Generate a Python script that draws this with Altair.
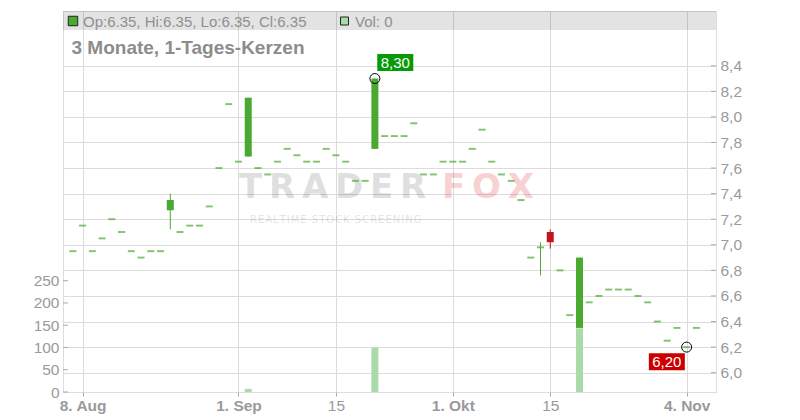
import altair as alt
import pandas as pd

# ---------------- data ----------------
idx = list(range(65))  # trading days 7 Aug 2025 .. 5 Nov 2025
opens = [6.95, 7.15, 6.95, 7.05, 7.20, 7.10, 6.95, 6.90, 6.95, 6.95,
         7.27, 7.10, 7.15, 7.15, 7.30, 7.60, 8.10, 7.65, 7.69, 7.60,
         7.55, 7.65, 7.75, 7.70, 7.65, 7.65, 7.75, 7.70, 7.65, 7.50,
         7.50, 7.75, 7.85, 7.85, 7.85, 7.95, 7.55, 7.55, 7.65, 7.65,
         7.65, 7.75, 7.90, 7.65, 7.55, 7.50, 7.35, 6.90, 6.98, 7.10,
         6.80, 6.45, 6.35, 6.55, 6.60, 6.65, 6.65, 6.65, 6.60, 6.55,
         6.40, 6.25, 6.35, 6.20, 6.35]
highs = [6.95, 7.15, 6.95, 7.05, 7.20, 7.10, 6.95, 6.90, 6.95, 6.95,
         7.40, 7.10, 7.15, 7.15, 7.30, 7.60, 8.10, 7.65, 8.15, 7.60,
         7.55, 7.65, 7.75, 7.70, 7.65, 7.65, 7.75, 7.70, 7.65, 7.50,
         7.50, 8.30, 7.85, 7.85, 7.85, 7.95, 7.55, 7.55, 7.65, 7.65,
         7.65, 7.75, 7.90, 7.65, 7.55, 7.50, 7.35, 6.90, 7.02, 7.12,
         6.80, 6.45, 6.90, 6.55, 6.60, 6.65, 6.65, 6.65, 6.60, 6.55,
         6.40, 6.25, 6.35, 6.20, 6.35]
lows = [6.95, 7.15, 6.95, 7.05, 7.20, 7.10, 6.95, 6.90, 6.95, 6.95,
        7.12, 7.10, 7.15, 7.15, 7.30, 7.60, 8.10, 7.65, 7.69, 7.60,
        7.55, 7.65, 7.75, 7.70, 7.65, 7.65, 7.75, 7.70, 7.65, 7.50,
        7.50, 7.75, 7.85, 7.85, 7.85, 7.95, 7.55, 7.55, 7.65, 7.65,
        7.65, 7.75, 7.90, 7.65, 7.55, 7.50, 7.35, 6.90, 6.76, 6.97,
        6.80, 6.45, 6.35, 6.55, 6.60, 6.65, 6.65, 6.65, 6.60, 6.55,
        6.40, 6.25, 6.35, 6.20, 6.35]
closes = [6.95, 7.15, 6.95, 7.05, 7.20, 7.10, 6.95, 6.90, 6.95, 6.95,
          7.35, 7.10, 7.15, 7.15, 7.30, 7.60, 8.10, 7.65, 8.15, 7.60,
          7.55, 7.65, 7.75, 7.70, 7.65, 7.65, 7.75, 7.70, 7.65, 7.50,
          7.50, 8.30, 7.85, 7.85, 7.85, 7.95, 7.55, 7.55, 7.65, 7.65,
          7.65, 7.75, 7.90, 7.65, 7.55, 7.50, 7.35, 6.90, 6.98, 7.02,
          6.80, 6.45, 6.90, 6.55, 6.60, 6.65, 6.65, 6.65, 6.60, 6.55,
          6.40, 6.25, 6.35, 6.20, 6.35]
volumes = [0, 0, 0, 0, 0, 0, 0, 0, 0, 0,
           0, 0, 0, 0, 0, 0, 0, 0, 7, 0,
           0, 0, 0, 0, 0, 0, 0, 0, 0, 0,
           0, 100, 0, 0, 0, 0, 0, 0, 0, 0,
           0, 0, 0, 0, 0, 0, 0, 0, 0, 0,
           0, 0, 143, 0, 0, 0, 0, 0, 0, 0,
           0, 0, 0, 0, 0]

tick_idx = [1, 17, 27, 39, 49, 63]
tick_labels = ["8. Aug", "1. Sep", "15", "1. Okt", "15", "4. Nov"]
price_ticks = [6.0, 6.2, 6.4, 6.6, 6.8, 7.0, 7.2, 7.4, 7.6, 7.8, 8.0, 8.2, 8.4]
vol_ticks = [0, 50, 100, 150, 200, 250]

# ---------------- styling ----------------
GREEN = "#49a931"
RED = "#c2161c"
VOL_GREEN = "#a8dba8"
LABEL_GREEN = "#079a07"
LABEL_RED = "#cc0000"
AXIS_TXT = "#9a9a9a"
FONT = "Liberation Sans"
LFS = 15.5
W, H = 653, 381

df = pd.DataFrame({"i": idx, "o": opens, "h": highs, "l": lows, "c": closes, "v": volumes})
df["dir"] = ["up" if c >= o else "down" for o, c in zip(opens, closes)]

x_label_expr = "".join(f"datum.value == {v} ? '{l}' : " for v, l in zip(tick_idx, tick_labels)) + "''"
normal_test = " || ".join(f"datum.value == {v}" for v, l in zip(tick_idx, tick_labels) if l.isdigit())

common_axis = dict(labelFont=FONT, labelFontSize=LFS, labelColor=AXIS_TXT, title=None, domain=False)

x_scale = alt.Scale(domain=[-0.5, 65.5], nice=False, zero=False)
x_axis = alt.Axis(values=tick_idx, labelExpr=x_label_expr, grid=True, gridColor="#dcdcdc",
                  ticks=True, tickSize=4, tickColor="#aaaaaa", labelPadding=2,
                  labelFlush=False, labelOverlap=False,
                  labelFontWeight={"condition": {"test": normal_test, "value": "normal"}, "value": "bold"},
                  **common_axis)


def X(field="i"):
    return alt.X(f"{field}:Q", scale=x_scale, axis=x_axis)


price_scale = alt.Scale(domain=[5.849, 8.828], nice=False, zero=False)
price_axis = alt.Axis(orient="right", values=price_ticks,
                      labelExpr="replace(format(datum.value, '.1f'), '.', ',')",
                      grid=True, gridColor="#dcdcdc", ticks=False, labelPadding=4,
                      labelOverlap=False, **common_axis)


def YP(field):
    return alt.Y(f"{field}:Q", scale=price_scale, axis=price_axis)


vol_scale = alt.Scale(domain=[0, 856], nice=False, zero=True)
vol_axis = alt.Axis(orient="left", values=vol_ticks, grid=False, ticks=False,
                    labelPadding=4, labelOverlap=False, **common_axis)


def YV(field):
    return alt.Y(f"{field}:Q", scale=vol_scale, axis=vol_axis)


color = alt.Color("dir:N", scale=alt.Scale(domain=["up", "down"], range=[GREEN, RED]), legend=None)
base = alt.Chart(df)

# ---------------- volume group ----------------
vol_bars = base.transform_filter("datum.v > 0").mark_bar(width=7, color=VOL_GREEN).encode(
    x=X(), y=YV("v"),
)
vol_inner_ticks = alt.Chart(pd.DataFrame({"t": vol_ticks})).mark_rule(color="#aaaaaa").encode(
    y=YV("t"), x=alt.value(0), x2=alt.value(5)
)
vol_group = alt.layer(vol_bars, vol_inner_ticks)

# ---------------- price group ----------------
one = pd.DataFrame({"k": [0]})
header_band = alt.Chart(one).mark_rect(color="black", opacity=0.11).encode(
    x=alt.value(0), x2=alt.value(W), y=alt.value(0), y2=alt.value(19)
)
wm_trader = alt.Chart(one).mark_text(
    text="\u2009".join("TRADER"), font="DejaVu Sans", fontWeight="bold", fontSize=34,
    align="left", baseline="alphabetic", color="black", opacity=0.12,
).encode(x=alt.value(176), y=alt.value(187))
wm_fox = alt.Chart(one).mark_text(
    text="\u2009".join("FOX"), font="DejaVu Sans", fontWeight="bold", fontSize=34,
    align="left", baseline="alphabetic", color="#e02028", opacity=0.2,
).encode(x=alt.value(379), y=alt.value(187))
wm_sub = alt.Chart(one).mark_text(
    text="\u200a".join("REALTIME STOCK SCREENING"), font="DejaVu Sans", fontSize=10,
    align="left", baseline="alphabetic", color="black", opacity=0.1,
).encode(x=alt.value(187), y=alt.value(212))

wicks = base.mark_rule(strokeWidth=1).encode(x=X(), y=YP("l"), y2="h:Q", color=color)
bodies = base.transform_filter("datum.o != datum.c").mark_bar(width=7).encode(
    x=X(), y=YP("o"), y2="c:Q", color=color
)
dashes = base.transform_filter("datum.o == datum.c").mark_tick(
    size=7, thickness=1.9, orient="horizontal"
).encode(x=X(), y=YP("c"), color=color)

hi_i = highs.index(max(highs))
lo_i = lows.index(min(lows))
hi_df = pd.DataFrame({"i": [hi_i], "p": [highs[hi_i]], "lab": [f"{highs[hi_i]:.2f}".replace(".", ",")]})
lo_df = pd.DataFrame({"i": [lo_i], "p": [lows[lo_i]], "lab": [f"{lows[lo_i]:.2f}".replace(".", ",")]})


def extreme(d, fill, dx, dy):
    circ = alt.Chart(d).mark_point(shape="circle", size=100, filled=False, stroke="black",
                                   strokeWidth=1, opacity=1).encode(x=X(), y=YP("p"))
    box = alt.Chart(d).mark_rect(width=36, height=17, xOffset=dx, yOffset=dy, color=fill).encode(
        x=X(), y=YP("p"))
    txt = alt.Chart(d).mark_text(dx=dx, dy=dy, color="white", fontSize=15, font=FONT,
                                 align="center", baseline="middle").encode(
        x=X(), y=YP("p"), text="lab:N")
    return [circ, box, txt]


price_inner_ticks = alt.Chart(pd.DataFrame({"t": price_ticks})).mark_rule(color="#aaaaaa").encode(
    y=YP("t"), x=alt.value(W - 5), x2=alt.value(W)
)

last = len(closes) - 1
ohlc_text = (f"Op:{opens[last]:.2f}, Hi:{highs[last]:.2f}, "
             f"Lo:{lows[last]:.2f}, Cl:{closes[last]:.2f}")
hdr_sq1 = alt.Chart(one).mark_point(shape="square", size=90, filled=True, fill=GREEN,
                                    stroke="#222222", strokeWidth=1, opacity=1).encode(
    x=alt.value(10), y=alt.value(10))
hdr_txt1 = alt.Chart(one).mark_text(text=ohlc_text, font=FONT, fontSize=15, color="#8f8f8f",
                                    align="left", baseline="middle").encode(
    x=alt.value(20), y=alt.value(10.5))
hdr_sq2 = alt.Chart(one).mark_point(shape="square", size=64, filled=True, fill=VOL_GREEN,
                                    stroke="#222222", strokeWidth=1, opacity=1).encode(
    x=alt.value(281.5), y=alt.value(10))
hdr_txt2 = alt.Chart(one).mark_text(text=f"Vol: {volumes[last]}", font=FONT, fontSize=15,
                                    color="#8f8f8f", align="left", baseline="middle").encode(
    x=alt.value(292), y=alt.value(10.5))
title_txt = alt.Chart(one).mark_text(text="3 Monate, 1-Tages-Kerzen", font=FONT, fontSize=19,
                                     fontWeight="bold", color="#8c8c8c", align="left",
                                     baseline="alphabetic").encode(
    x=alt.value(8.5), y=alt.value(43))

price_group = alt.layer(
    header_band, wm_trader, wm_fox, wm_sub,
    wicks, bodies, dashes,
    *extreme(hi_df, LABEL_GREEN, 20.4, -16),
    *extreme(lo_df, LABEL_RED, -19.8, 14.7),
    price_inner_ticks,
    hdr_sq1, hdr_txt1, hdr_sq2, hdr_txt2, title_txt,
)

chart = (
    alt.layer(vol_group, price_group)
    .resolve_scale(y="independent")
    .properties(width=W, height=H, autosize=alt.AutoSizeParams(type="none"),
                padding={"left": 55, "top": 3, "right": 74, "bottom": 26})
    .configure_view(stroke="#b9b9b9", strokeWidth=1)
    .configure(background="white")
)

chart.save("out.html", embed_options={"renderer": "svg", "actions": False})
